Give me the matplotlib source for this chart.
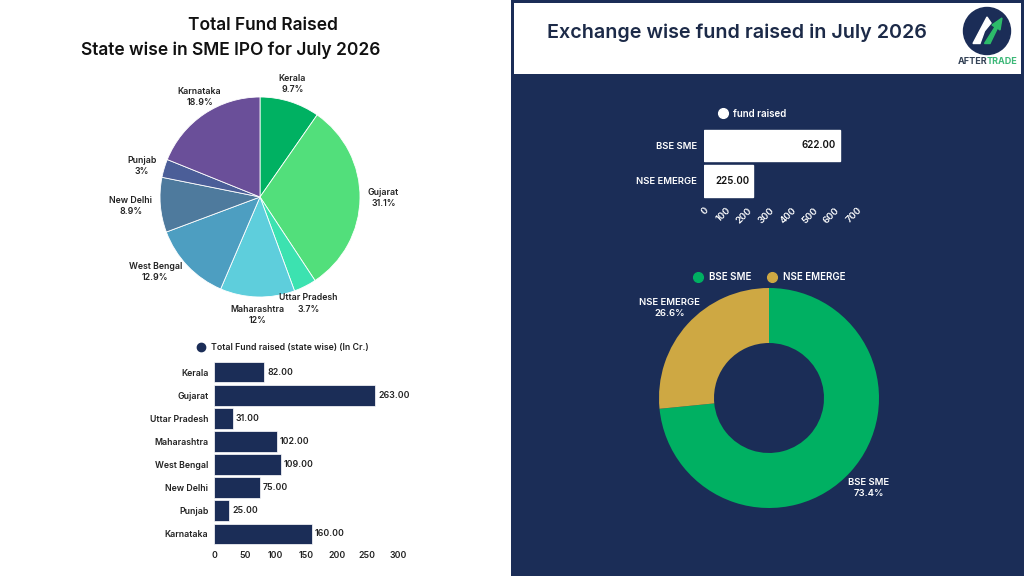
import matplotlib
matplotlib.use("Agg")
import numpy as np
import matplotlib.pyplot as plt
from matplotlib.lines import Line2D
from matplotlib.patches import Rectangle, Circle, Polygon

# data
states = ["Kerala", "Gujarat", "Uttar Pradesh", "Maharashtra",
          "West Bengal", "New Delhi", "Punjab", "Karnataka"]
state_funds = [82, 263, 31, 102, 109, 75, 25, 160]
state_colors = ["#00b162", "#52df7b", "#3ce2b0", "#5ecedc",
                "#4d9ec1", "#4e7a9d", "#4b5e98", "#6a4f99"]
state_ticks = [0, 50, 100, 150, 200, 250, 300]

exchanges = ["BSE SME", "NSE EMERGE"]
exchange_funds = [622, 225]
exchange_colors = ["#00b062", "#cea843"]
exchange_ticks = [0, 100, 200, 300, 400, 500, 600, 700]

NAVY = "#1b2d57"
INK = "#1c2a48"
W, H = 1024, 576

plt.rcParams["font.family"] = ["Inter", "DejaVu Sans"]


def box(x, y, w, h):
    # pixel box (top-left origin) -> figure fraction
    return [x / W, 1 - (y + h) / H, w / W, h / H]


def pct_text(p):
    return f"{p:.1f}".rstrip("0").rstrip(".")


fig = plt.figure(figsize=(W / 100, H / 100), dpi=100)
fig.patch.set_facecolor("white")

# right panel background + white header box
fig.patches.append(Rectangle((511 / W, 0), 1 - 511 / W, 1, transform=fig.transFigure,
                             facecolor=NAVY, edgecolor="none", zorder=-2))
fig.patches.append(Rectangle((514 / W, 1 - 74 / H), 507 / W, 71 / H, transform=fig.transFigure,
                             facecolor="white", edgecolor="none", zorder=-1))

# titles
fig.text(263 / W, 1 - 25 / H, "Total Fund Raised", ha="center", va="center",
         fontsize=12.5, fontweight="semibold", color="#111111")
fig.text(231 / W, 1 - 50 / H, "State wise in SME IPO for July 2026", ha="center", va="center",
         fontsize=12.5, fontweight="semibold", color="#111111")
fig.text(737 / W, 1 - 33 / H, "Exchange wise fund raised in July 2026", ha="center", va="center",
         fontsize=14.2, fontweight="semibold", color=INK)

# state pie
total = sum(state_funds)
pie_labels = [f"{s}\n{pct_text(v / total * 100)}%" for s, v in zip(states, state_funds)]
ax_pie = fig.add_axes(box(160, 97, 200, 200))
_, ptexts = ax_pie.pie(state_funds, labels=pie_labels, colors=state_colors, startangle=90,
                       counterclock=False, labeldistance=1.08,
                       wedgeprops=dict(edgecolor="white", linewidth=0.6),
                       textprops=dict(fontsize=6.3, fontweight="semibold", color="#222222",
                                      linespacing=1.3, multialignment="center"))
# push labels outward: align by the side of the pie they sit on
for t in ptexts:
    x, y = t.get_position()
    ang = np.arctan2(y, x)
    c, s = np.cos(ang), np.sin(ang)
    t.set_ha("left" if c > 0.6 else ("right" if c < -0.6 else "center"))
    t.set_va("bottom" if s > 0.7 else ("top" if s < -0.7 else "center"))
ax_pie.set_xlim(-1, 1)
ax_pie.set_ylim(-1, 1)

# state bar chart
ax_bar = fig.add_axes(box(214, 360.5, 184, 185))
ypos = list(range(len(states)))
bars = ax_bar.barh(ypos, state_funds, height=0.9, color=NAVY, edgecolor="white", linewidth=0.5)
ax_bar.bar_label(bars, fmt="%.2f", padding=2, fontsize=6.3, fontweight="semibold", color="#222222")
ax_bar.set_yticks(ypos)
ax_bar.set_yticklabels(states, fontsize=6.3, fontweight="semibold", color="#222222")
ax_bar.set_xticks(state_ticks)
ax_bar.set_xticklabels([str(t) for t in state_ticks], fontsize=6.3, fontweight="semibold", color="#222222")
ax_bar.set_xlim(0, 300)
ax_bar.set_ylim(len(states) - 0.5, -0.5)
ax_bar.tick_params(length=0, pad=4)
for sp in ax_bar.spines.values():
    sp.set_visible(False)
ax_bar.patch.set_alpha(0)
handle = Line2D([], [], marker="o", linestyle="none", markersize=6, color=NAVY)
ax_bar.legend([handle], ["Total Fund raised (state wise) (In Cr.)"], loc="center",
              bbox_to_anchor=(0.36, 1.07), frameon=False, handletextpad=0.1,
              prop=dict(size=6.3, weight="semibold"), labelcolor="#222222")

# exchange bar chart
ax_ex = fig.add_axes(box(704, 127.75, 153, 71))
eypos = list(range(len(exchanges)))
ebars = ax_ex.barh(eypos, exchange_funds, height=0.88, color="white", edgecolor="white")
elabels = ax_ex.bar_label(ebars, fmt="%.2f", padding=-3, fontsize=7, fontweight="semibold", color="#111111")
for t in elabels:
    t.set_ha("right")
ax_ex.set_yticks(eypos)
ax_ex.set_yticklabels(exchanges, fontsize=6.8, fontweight="semibold", color="white")
ax_ex.set_xticks(exchange_ticks)
ax_ex.set_xticklabels([str(t) for t in exchange_ticks], fontsize=6.8, fontweight="semibold",
                      color="white", rotation=45, ha="right", rotation_mode="anchor")
ax_ex.set_xlim(0, 700)
ax_ex.set_ylim(len(exchanges) - 0.5, -0.5)
ax_ex.tick_params(length=0, pad=5)
for sp in ax_ex.spines.values():
    sp.set_visible(False)
ax_ex.patch.set_alpha(0)
ehandle = Line2D([], [], marker="o", linestyle="none", markersize=7, color="white")
ax_ex.legend([ehandle], ["fund raised"], loc="center", bbox_to_anchor=(0.3, 1.2),
             frameon=False, handletextpad=0.1,
             prop=dict(size=7, weight="semibold"), labelcolor="white")

# exchange donut
etotal = sum(exchange_funds)
donut_labels = [f"{e}\n{pct_text(v / etotal * 100)}%" for e, v in zip(exchanges, exchange_funds)]
ax_do = fig.add_axes(box(659, 288, 220, 220))
wedges, _ = ax_do.pie(exchange_funds, labels=donut_labels, colors=exchange_colors, startangle=90,
                      counterclock=False, labeldistance=1.22,
                      wedgeprops=dict(width=0.5, edgecolor="none"),
                      textprops=dict(ha="center", va="center", fontsize=6.8,
                                     fontweight="semibold", color="white", linespacing=1.3))
ax_do.set_xlim(-1, 1)
ax_do.set_ylim(-1, 1)
dhandles = [Line2D([], [], marker="o", linestyle="none", markersize=7, color=c) for c in exchange_colors]
ax_do.legend(dhandles, exchanges, loc="center", bbox_to_anchor=(0.49, 1.05), ncol=2,
             frameon=False, handletextpad=0.1, columnspacing=1.2,
             prop=dict(size=7, weight="semibold"), labelcolor="white")

# logo
ax_logo = fig.add_axes(box(962, 6, 50, 50))
ax_logo.set_xlim(0, 1)
ax_logo.set_ylim(0, 1)
ax_logo.set_aspect("equal")
ax_logo.axis("off")
ax_logo.add_patch(Circle((0.5, 0.5), 0.47, color=NAVY))
ax_logo.add_patch(Polygon([(0.22, 0.25), (0.5, 0.78), (0.58, 0.66), (0.45, 0.5), (0.36, 0.25)],
                          color="white"))
ax_logo.add_patch(Polygon([(0.45, 0.25), (0.66, 0.58), (0.6, 0.62), (0.8, 0.76), (0.76, 0.52),
                           (0.71, 0.56), (0.56, 0.25)], color="#2dbb6a"))
fig.text(987 / W, 1 - 61 / H, "AFTER", ha="right", va="center", fontsize=6.5,
         fontweight="bold", color="#334155")
fig.text(987 / W, 1 - 61 / H, "TRADE", ha="left", va="center", fontsize=6.5,
         fontweight="bold", color="#3cb878")

fig.savefig("out.png", dpi=100)
